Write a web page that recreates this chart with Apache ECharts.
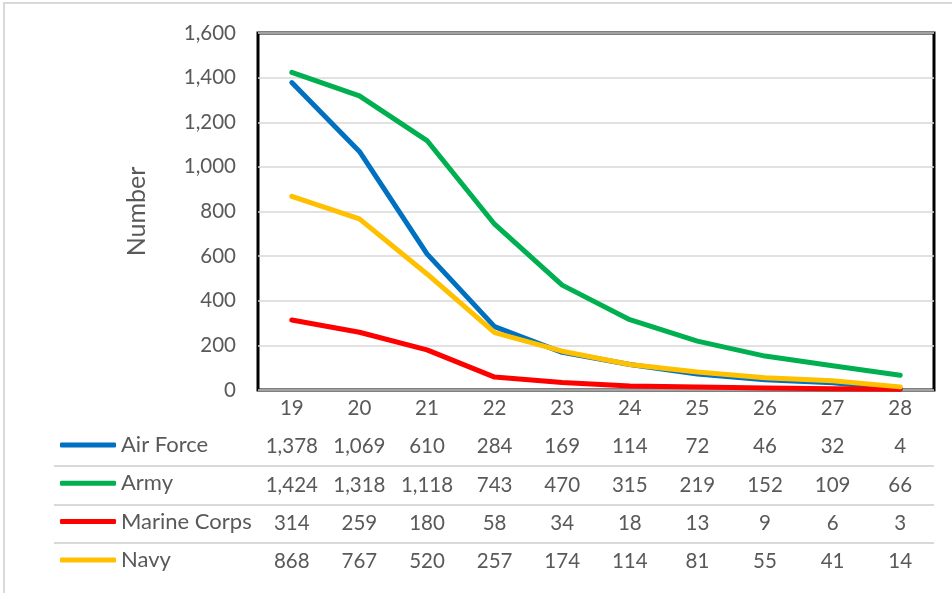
<!DOCTYPE html>
<html>
<head>
<meta charset="utf-8">
<script src="https://cdn.jsdelivr.net/npm/echarts@6/dist/echarts.min.js"></script>
<style>
  html, body { margin: 0; padding: 0; background: #fff; }
  #main { width: 952px; height: 593px; }
</style>
</head>
<body>
<div id="main"></div>
<script>
// data
var ages = ['19', '20', '21', '22', '23', '24', '25', '26', '27', '28'];
var airForce = [1378, 1069, 610, 284, 169, 114, 72, 46, 32, 4];
var army = [1424, 1318, 1118, 743, 470, 315, 219, 152, 109, 66];
var marineCorps = [314, 259, 180, 58, 34, 18, 13, 9, 6, 3];
var navy = [868, 767, 520, 257, 174, 114, 81, 55, 41, 14];
var names = ['Air Force', 'Army', 'Marine Corps', 'Navy'];
var colors = ['#0070C0', '#00B050', '#FF0000', '#FFC000'];
var yTicks = { min: 0, max: 1600, interval: 200 };

var myChart = echarts.init(document.getElementById('main'));
var font = 'Lato';
var grey = '#595959';

function fmt(v) {
    return Number(v).toLocaleString('en-US');
}

// one hidden-line axis per table row so the numbers sit under the categories
var rows = [airForce, army, marineCorps, navy];
var rowOffsets = [38, 77, 115, 153];
var tableAxes = rows.map(function (r, i) {
    return {
        type: 'category',
        gridIndex: 0,
        position: 'bottom',
        offset: rowOffsets[i],
        data: r.map(fmt),
        axisLine: { show: false },
        axisTick: { show: false },
        axisLabel: { interval: 0, margin: 8, fontFamily: font, fontSize: 20.5, color: grey }
    };
});

var seriesList = rows.map(function (r, i) {
    return {
        name: names[i],
        type: 'line',
        data: r,
        symbol: 'none',
        color: colors[i],
        lineStyle: { width: 5, cap: 'round', join: 'round' }
    };
});

var option = {
    animation: false,
    grid: {
        show: true,
        left: 258, right: 18, top: 33, bottom: 203,
        borderColor: '#000', borderWidth: 3,
        backgroundColor: '#fff'
    },
    legend: {
        data: names,
        orient: 'vertical',
        left: 60, top: 434,
        padding: 0,
        icon: 'roundRect',
        itemWidth: 56, itemHeight: 5,
        itemGap: 16.3,
        selectedMode: false,
        textStyle: { fontFamily: font, fontSize: 22, color: grey, lineHeight: 22 }
    },
    xAxis: [{
        type: 'category',
        data: ages,
        boundaryGap: true,
        axisLine: { show: false },
        axisTick: { show: false },
        axisLabel: { margin: 8, fontFamily: font, fontSize: 20.5, color: grey }
    }].concat(tableAxes),
    yAxis: {
        type: 'value',
        min: yTicks.min, max: yTicks.max, interval: yTicks.interval,
        name: 'Number',
        nameLocation: 'middle',
        nameGap: 109,
        nameTextStyle: { fontFamily: font, fontSize: 25, color: grey },
        axisLine: { show: false },
        axisTick: { show: false },
        axisLabel: { margin: 22, fontFamily: font, fontSize: 20.5, color: grey, formatter: fmt },
        splitLine: { lineStyle: { color: '#d9d9d9', width: 1.5 } }
    },
    graphic: [
        // outer chart border
        { type: 'rect', shape: { x: 4, y: 3, width: 960, height: 600 },
          style: { fill: 'none', stroke: '#d9d9d9', lineWidth: 2 }, silent: true },
        // table row separators
        { type: 'line', shape: { x1: 54, y1: 466, x2: 934, y2: 466 }, style: { stroke: '#d9d9d9', lineWidth: 2 } },
        { type: 'line', shape: { x1: 54, y1: 505, x2: 934, y2: 505 }, style: { stroke: '#d9d9d9', lineWidth: 2 } },
        { type: 'line', shape: { x1: 54, y1: 543, x2: 934, y2: 543 }, style: { stroke: '#d9d9d9', lineWidth: 2 } }
    ],
    series: seriesList
};

myChart.setOption(option);
window.onresize = myChart.resize;
</script>
</body>
</html>
